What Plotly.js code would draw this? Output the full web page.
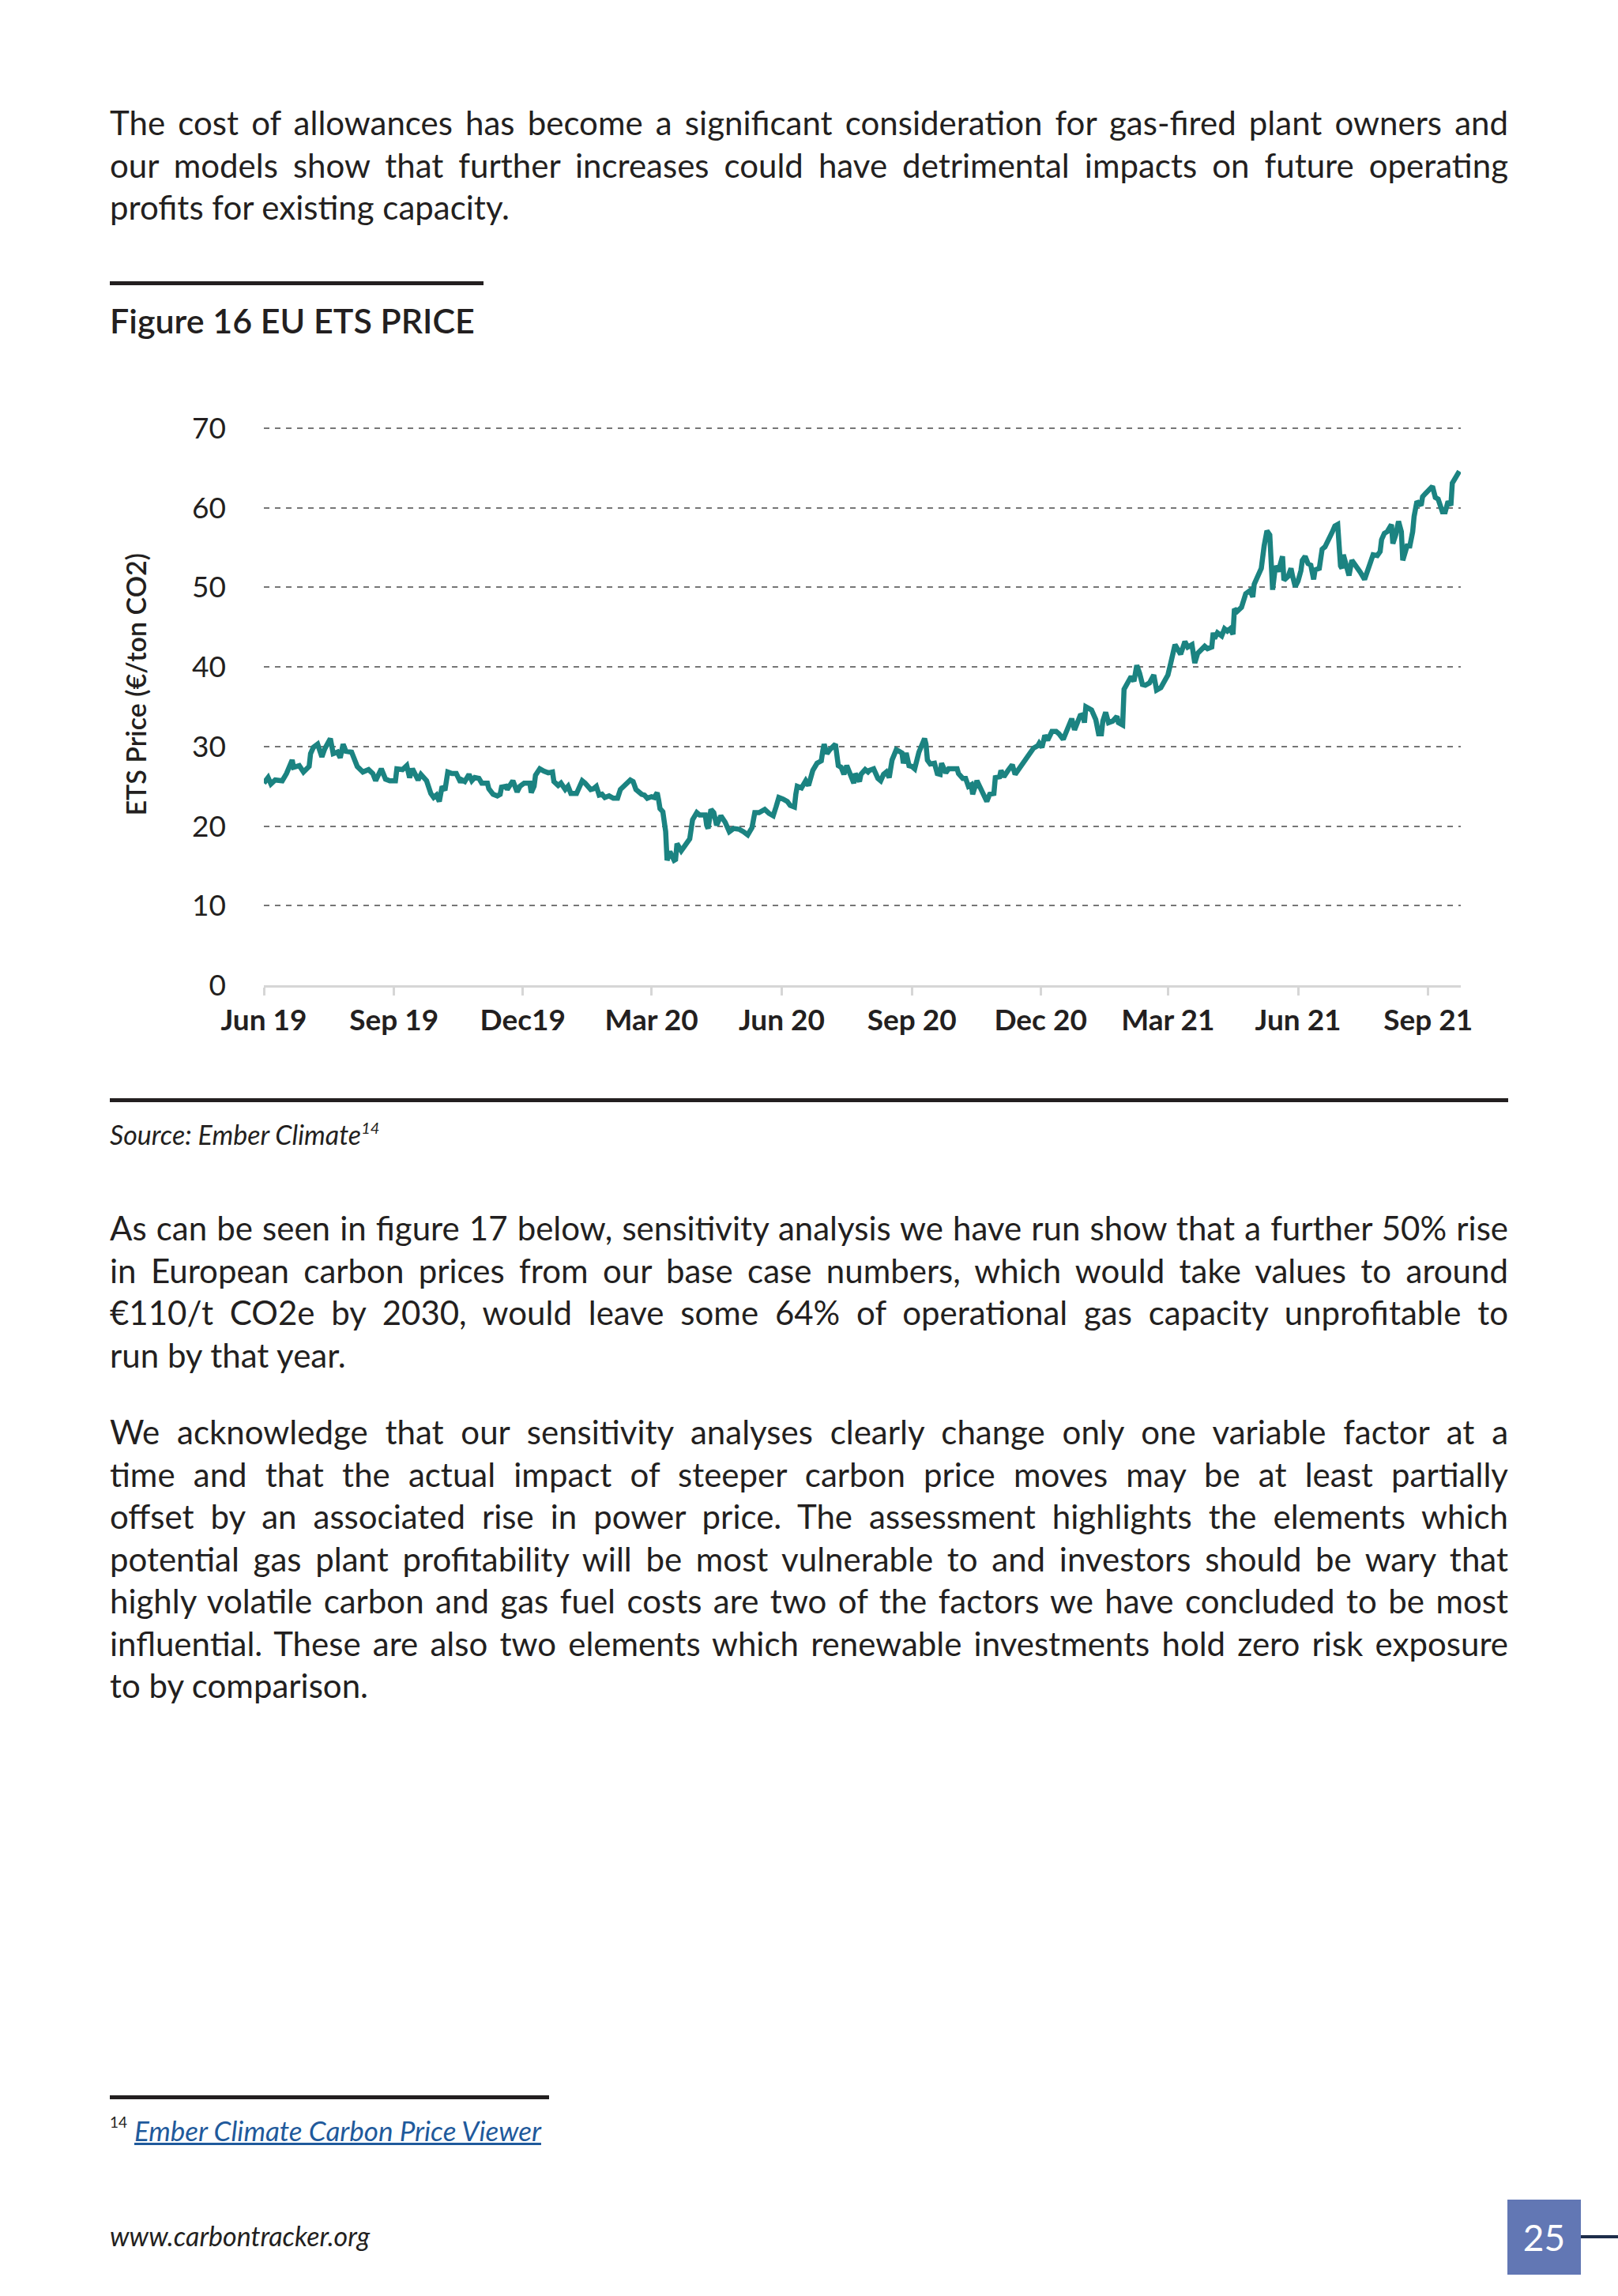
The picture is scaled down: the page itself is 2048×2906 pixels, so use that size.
<!DOCTYPE html>
<html><head><meta charset="utf-8">
<script src="https://cdn.plot.ly/plotly-3.0.1.min.js"></script>
<style>
html,body{margin:0;padding:0;background:#ffffff;}
body{width:2048px;height:2906px;position:relative;overflow:hidden;font-family:Lato,"Open Sans",sans-serif;color:#231f20;}
.abs{position:absolute;}
.para{position:absolute;left:139px;width:1770px;font-size:42px;}
.para div{height:53.5px;line-height:53.5px;white-space:nowrap;text-align:justify;text-align-last:justify;}
.para div.last{text-align-last:left;}
.rule{position:absolute;background:#231f20;}
</style></head><body>

<div class="para" style="top:129px;">
<div>The cost of allowances has become a significant consideration for gas-fired plant owners and</div>
<div>our models show that further increases could have detrimental impacts on future operating</div>
<div class="last">profits for existing capacity.</div>
</div>

<div class="rule" style="left:139px;top:356px;width:473px;height:5px;"></div>
<div class="abs" style="left:139px;top:381px;font-size:43px;line-height:50px;font-weight:600;white-space:nowrap;">Figure 16 EU ETS PRICE</div>

<div id="chart" class="abs" style="left:0;top:480px;width:2048px;height:900px;"></div>

<div class="rule" style="left:139px;top:1390px;width:1770px;height:5px;"></div>
<div class="abs" style="left:139px;top:1417px;font-size:34px;line-height:38px;font-style:italic;white-space:nowrap;">Source: Ember Climate<sup style="font-size:20px;vertical-align:top;line-height:20px;">14</sup></div>

<div class="para" style="top:1528px;">
<div>As can be seen in figure 17 below, sensitivity analysis we have run show that a further 50% rise</div>
<div>in European carbon prices from our base case numbers, which would take values to around</div>
<div>€110/t CO2e by 2030, would leave some 64% of operational gas capacity unprofitable to</div>
<div class="last">run by that year.</div>
</div>

<div class="para" style="top:1786px;">
<div>We acknowledge that our sensitivity analyses clearly change only one variable factor at a</div>
<div>time and that the actual impact of steeper carbon price moves may be at least partially</div>
<div>offset by an associated rise in power price. The assessment highlights the elements which</div>
<div>potential gas plant profitability will be most vulnerable to and investors should be wary that</div>
<div>highly volatile carbon and gas fuel costs are two of the factors we have concluded to be most</div>
<div>influential. These are also two elements which renewable investments hold zero risk exposure</div>
<div class="last">to by comparison.</div>
</div>

<div class="rule" style="left:139px;top:2652px;width:556px;height:5px;"></div>
<div class="abs" style="left:139px;top:2676px;font-size:35px;line-height:40px;white-space:nowrap;"><sup style="font-size:19px;vertical-align:top;line-height:19px;">14</sup> <span style="font-style:italic;color:#1f5a9c;text-decoration:underline;">Ember Climate Carbon Price Viewer</span></div>

<div class="abs" style="left:139px;top:2811px;font-size:34px;line-height:38px;font-style:italic;white-space:nowrap;">www.carbontracker.org</div>

<div class="abs" style="left:1908px;top:2784px;width:93px;height:95px;background:#6277b4;color:#ffffff;font-size:46px;line-height:95px;text-align:center;">25</div>
<div class="abs" style="left:2001px;top:2829px;width:47px;height:4px;background:#1e2d4a;"></div>

<script>
const dates = [
'2019-06-01','2019-06-04','2019-06-06','2019-06-09','2019-06-14','2019-06-17','2019-06-21','2019-06-22','2019-06-26','2019-06-29',
'2019-07-03','2019-07-04','2019-07-06','2019-07-09','2019-07-12','2019-07-14','2019-07-18','2019-07-20','2019-07-23','2019-07-25',
'2019-07-27','2019-07-29','2019-08-02','2019-08-05','2019-08-06','2019-08-10','2019-08-14','2019-08-17','2019-08-19','2019-08-23',
'2019-08-26','2019-08-29','2019-09-02','2019-09-03','2019-09-07','2019-09-10','2019-09-12','2019-09-14','2019-09-18','2019-09-20',
'2019-09-24','2019-09-27','2019-09-29','2019-10-01','2019-10-03','2019-10-05','2019-10-07','2019-10-09','2019-10-12','2019-10-15',
'2019-10-18','2019-10-19','2019-10-21','2019-10-24','2019-10-26','2019-10-28','2019-10-31','2019-11-02','2019-11-06','2019-11-07',
'2019-11-10','2019-11-13','2019-11-15','2019-11-16','2019-11-19','2019-11-20','2019-11-24','2019-11-27','2019-11-29','2019-12-02',
'2019-12-06','2019-12-07','2019-12-09','2019-12-10','2019-12-13','2019-12-16','2019-12-19','2019-12-22','2019-12-23','2019-12-26',
'2019-12-28','2019-12-31','2020-01-02','2020-01-04','2020-01-08','2020-01-09','2020-01-12','2020-01-14','2020-01-18','2020-01-20',
'2020-01-22','2020-01-24','2020-01-26','2020-01-28','2020-01-31','2020-02-03','2020-02-06','2020-02-08','2020-02-11','2020-02-15',
'2020-02-17','2020-02-19','2020-02-23','2020-02-25','2020-02-27','2020-03-01','2020-03-03','2020-03-05','2020-03-06','2020-03-07',
'2020-03-09','2020-03-11','2020-03-12','2020-03-14','2020-03-17','2020-03-18','2020-03-19','2020-03-22','2020-03-24','2020-03-27',
'2020-03-28','2020-03-30','2020-04-02','2020-04-04','2020-04-08','2020-04-09','2020-04-10','2020-04-12','2020-04-14','2020-04-16',
'2020-04-19','2020-04-22','2020-04-25','2020-04-28','2020-05-02','2020-05-05','2020-05-08','2020-05-11','2020-05-13','2020-05-16',
'2020-05-20','2020-05-23','2020-05-26','2020-05-28','2020-05-30','2020-06-02','2020-06-05','2020-06-07','2020-06-10','2020-06-11',
'2020-06-12','2020-06-15','2020-06-18','2020-06-20','2020-06-23','2020-06-26','2020-06-29','2020-06-30','2020-07-01','2020-07-03',
'2020-07-05','2020-07-09','2020-07-11','2020-07-13','2020-07-15','2020-07-17','2020-07-19','2020-07-22','2020-07-23','2020-07-26',
'2020-07-27','2020-07-30','2020-08-01','2020-08-02','2020-08-05','2020-08-08','2020-08-10','2020-08-12','2020-08-14','2020-08-16',
'2020-08-18','2020-08-21','2020-08-23','2020-08-25','2020-08-26','2020-08-28','2020-08-30','2020-09-01','2020-09-03','2020-09-06',
'2020-09-10','2020-09-11','2020-09-12','2020-09-14','2020-09-17','2020-09-19','2020-09-21','2020-09-22','2020-09-25','2020-09-27',
'2020-09-30','2020-10-03','2020-10-04','2020-10-07','2020-10-09','2020-10-11','2020-10-13','2020-10-14','2020-10-17','2020-10-20',
'2020-10-22','2020-10-24','2020-10-26','2020-10-29','2020-10-30','2020-11-02','2020-11-03','2020-11-05','2020-11-08','2020-11-11',
'2020-11-13','2020-11-17','2020-11-20','2020-11-23','2020-11-26','2020-11-29','2020-11-30','2020-12-02','2020-12-04','2020-12-06',
'2020-12-09','2020-12-12','2020-12-14','2020-12-17','2020-12-19','2020-12-22','2020-12-23','2020-12-25','2020-12-27','2020-12-29',
'2020-12-31','2021-01-01','2021-01-02','2021-01-06','2021-01-09','2021-01-11','2021-01-13','2021-01-14','2021-01-16','2021-01-18',
'2021-01-21','2021-01-24','2021-01-25','2021-01-28','2021-01-29','2021-01-31','2021-02-02','2021-02-03','2021-02-05','2021-02-07',
'2021-02-09','2021-02-11','2021-02-13','2021-02-16','2021-02-19','2021-02-21','2021-02-24','2021-02-27','2021-03-01','2021-03-03',
'2021-03-06','2021-03-07','2021-03-10','2021-03-13','2021-03-15','2021-03-18','2021-03-20','2021-03-22','2021-03-25','2021-03-27',
'2021-03-29','2021-04-01','2021-04-02','2021-04-03','2021-04-05','2021-04-08','2021-04-10','2021-04-12','2021-04-14','2021-04-16',
'2021-04-17','2021-04-19','2021-04-22','2021-04-23','2021-04-25','2021-04-28','2021-04-30','2021-05-01','2021-05-03','2021-05-06',
'2021-05-08','2021-05-10','2021-05-12','2021-05-14','2021-05-16','2021-05-18','2021-05-21','2021-05-22','2021-05-25','2021-05-27',
'2021-05-28','2021-05-30','2021-06-01','2021-06-03','2021-06-04','2021-06-06','2021-06-08','2021-06-10','2021-06-12','2021-06-13',
'2021-06-16','2021-06-17','2021-06-18','2021-06-20','2021-06-22','2021-06-25','2021-06-27','2021-06-29','2021-07-01','2021-07-02',
'2021-07-03','2021-07-05','2021-07-07','2021-07-09','2021-07-12','2021-07-15','2021-07-18','2021-07-20','2021-07-22','2021-07-24',
'2021-07-27','2021-07-29','2021-07-30','2021-08-01','2021-08-03','2021-08-06','2021-08-07','2021-08-09','2021-08-11','2021-08-13',
'2021-08-14','2021-08-15','2021-08-17','2021-08-19','2021-08-21','2021-08-22','2021-08-24','2021-08-27','2021-08-28','2021-08-30',
'2021-09-01','2021-09-04','2021-09-06','2021-09-08','2021-09-11','2021-09-13','2021-09-15','2021-09-17','2021-09-18','2021-09-20',
'2021-09-23'
];
const prices = [
25.4,26.1,25.3,25.8,25.7,26.6,28.3,27.4,27.6,26.8,
27.5,29.1,29.9,30.3,28.7,29.7,31.0,29.1,29.3,28.6,
30.3,29.4,29.3,27.9,27.5,26.8,27.1,26.6,25.7,27.2,
25.9,25.7,25.7,27.2,27.1,27.6,26.1,27.2,25.8,26.5,
25.7,24.1,23.6,23.9,23.1,25.0,24.5,26.8,26.6,26.6,
25.5,25.8,25.6,26.5,25.7,26.1,26.0,25.4,25.4,24.7,
24.0,23.8,24.0,24.9,25.0,24.6,25.7,24.3,25.0,25.4,
25.4,24.2,25.0,26.4,27.2,26.9,26.7,26.8,25.6,25.1,
25.4,24.6,25.0,24.1,24.1,24.5,25.7,25.4,24.6,24.7,
25.0,23.9,24.0,23.6,23.8,23.5,23.5,24.6,25.2,25.8,
25.6,24.6,24.0,23.9,23.5,23.7,23.6,24.2,23.3,22.2,
21.8,19.3,15.7,16.8,15.7,15.8,17.8,16.9,17.4,18.3,
18.4,20.8,21.7,21.4,21.4,20.1,19.7,22.1,21.7,20.1,
21.3,20.5,19.3,19.7,19.6,19.3,18.9,19.8,21.7,21.7,
22.1,21.6,21.3,22.4,23.6,23.4,23.1,22.6,22.4,24.0,
25.0,24.8,25.7,25.1,27.0,27.9,28.2,29.4,30.3,29.1,
29.6,30.3,27.6,27.4,26.5,27.6,26.8,25.4,26.6,25.6,
26.5,27.1,26.8,27.0,27.2,26.0,25.7,26.5,26.8,26.1,
28.3,29.6,29.4,29.2,27.9,29.2,27.6,27.5,27.2,29.3,
31.0,30.3,28.3,27.8,27.9,26.6,26.5,27.9,26.7,27.2,
27.2,27.2,26.6,26.0,26.0,25.0,25.2,24.0,25.7,24.6,
24.0,23.1,24.0,24.1,26.1,26.2,27.0,26.2,27.0,27.7,
26.5,27.5,28.3,29.1,29.8,30.1,30.4,29.9,31.4,30.8,
31.9,31.9,31.6,30.9,31.8,33.2,33.5,32.1,33.2,33.9,
34.0,33.0,35.0,34.6,33.4,31.6,31.6,33.2,34.3,33.0,
33.2,33.8,33.0,32.7,37.2,37.9,38.7,38.8,38.2,40.2,
39.2,37.8,37.7,38.0,39.0,37.1,37.4,38.2,39.0,40.5,
42.8,42.5,41.6,43.2,42.5,42.8,40.5,41.7,42.3,42.6,
42.3,42.5,44.3,43.6,44.3,43.9,44.8,44.5,44.8,44.1,
47.3,47.0,47.5,48.1,49.2,49.6,48.8,50.4,51.3,52.4,
55.2,57.1,56.6,49.7,52.7,52.0,53.9,50.9,51.4,52.4,
51.5,50.1,50.8,52.1,53.4,53.9,53.0,52.8,51.0,52.2,
52.4,53.7,54.8,55.1,55.7,56.9,57.7,57.9,52.7,52.4,
54.1,53.0,51.5,53.4,52.7,51.9,51.0,52.0,53.0,54.1,
54.0,54.5,56.0,56.8,57.0,57.9,55.5,56.6,58.3,57.0,
53.4,54.1,55.2,55.2,57.0,58.9,60.8,60.3,61.4,61.8,
62.2,62.7,61.3,61.1,59.5,59.5,60.8,60.3,63.1,63.6,
64.6
];
const tickDates = ['2019-06-01','2019-09-01','2019-12-01','2020-03-01','2020-06-01','2020-09-01','2020-12-01','2021-03-01','2021-06-01','2021-09-01'];
const tickLabels = ['Jun 19','Sep 19','Dec19','Mar 20','Jun 20','Sep 20','Dec 20','Mar 21','Jun 21','Sep 21'];
const yTicks = [0,10,20,30,40,50,60,70];
const yTitle = 'ETS Price (€/ton CO2)';

Plotly.newPlot('chart', [{
  x: dates, y: prices, type: 'scatter', mode: 'lines',
  line: {color: '#1b8381', width: 6.5}, hoverinfo: 'skip'
}], {
  width: 2048, height: 900,
  margin: {l: 334, r: 199, t: 57, b: 133, pad: 0},
  paper_bgcolor: 'rgba(0,0,0,0)', plot_bgcolor: 'rgba(0,0,0,0)',
  showlegend: false,
  font: {family: 'Lato, "Open Sans", sans-serif', color: '#231f20', size: 36},
  xaxis: {
    type: 'date', range: ['2019-06-01', '2021-09-24'],
    tickmode: 'array', tickvals: tickDates, ticktext: tickLabels,
    showgrid: false, zeroline: false, showline: true, linecolor: '#d6d6d6', linewidth: 3,
    ticks: 'outside', ticklen: 10, tickwidth: 3, tickcolor: '#d6d6d6',
    tickfont: {size: 37, weight: 'bold', color: '#231f20'}, fixedrange: true, automargin: false
  },
  yaxis: {
    range: [0, 70.5], tickmode: 'array', tickvals: yTicks,
    showgrid: true, gridcolor: '#767676', gridwidth: 2, griddash: '7px,7px',
    zeroline: false, showline: false, ticks: '', ticklabelstandoff: 47,
    tickfont: {size: 37, color: '#231f20'},
    automargin: false, fixedrange: true
  },
  annotations: [{
    text: yTitle, xref: 'paper', yref: 'paper', x: -0.1079, y: 0.5366,
    xanchor: 'center', yanchor: 'middle', textangle: -90, showarrow: false,
    font: {size: 34, weight: 600, color: '#231f20'}
  }]
}, {displayModeBar: false, staticPlot: true});
</script>
</body></html>
